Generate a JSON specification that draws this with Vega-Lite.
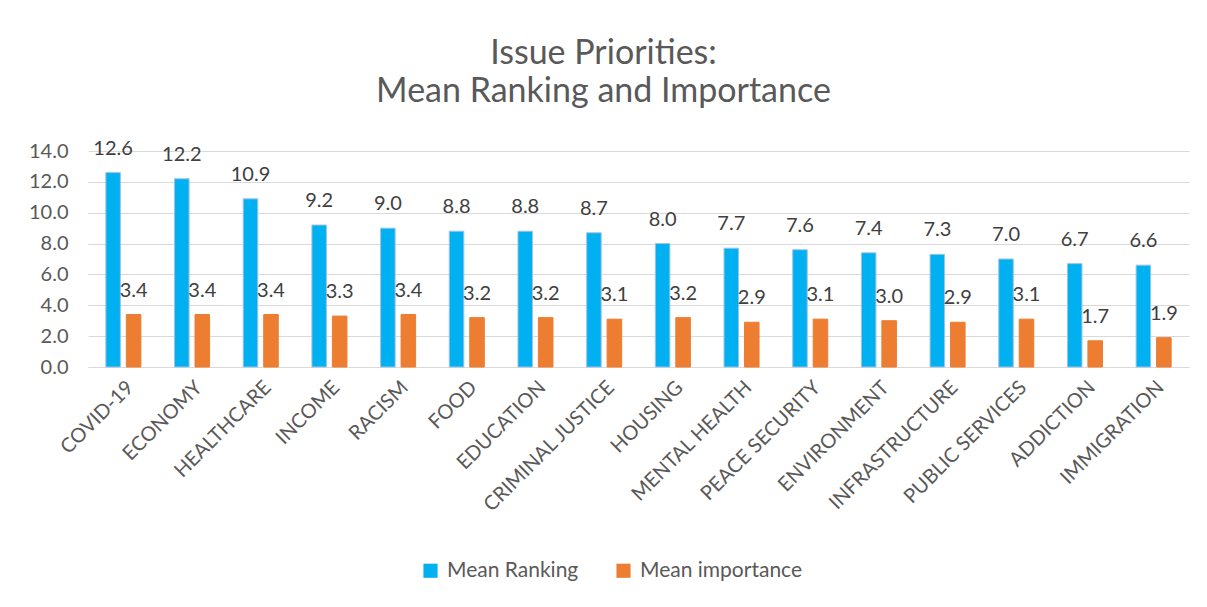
{
  "$schema": "https://vega.github.io/schema/vega-lite/v6.json",
  "width": 1101,
  "height": 216,
  "padding": {"left": 28, "top": 36, "right": 15, "bottom": 10},
  "background": "white",
  "title": {
    "text": ["Issue Priorities:", "Mean Ranking and Importance"],
    "fontSize": 34,
    "fontWeight": "normal",
    "font": "Lato",
    "color": "#595959",
    "lineHeight": 38,
    "offset": 30,
    "dx": -35
  },
  "data": {
    "values": [
      {"issue": "COVID-19", "series": "Mean Ranking", "value": 12.6},
      {"issue": "COVID-19", "series": "Mean importance", "value": 3.4},
      {"issue": "ECONOMY", "series": "Mean Ranking", "value": 12.2},
      {"issue": "ECONOMY", "series": "Mean importance", "value": 3.4},
      {"issue": "HEALTHCARE", "series": "Mean Ranking", "value": 10.9},
      {"issue": "HEALTHCARE", "series": "Mean importance", "value": 3.4},
      {"issue": "INCOME", "series": "Mean Ranking", "value": 9.2},
      {"issue": "INCOME", "series": "Mean importance", "value": 3.3},
      {"issue": "RACISM", "series": "Mean Ranking", "value": 9.0},
      {"issue": "RACISM", "series": "Mean importance", "value": 3.4},
      {"issue": "FOOD", "series": "Mean Ranking", "value": 8.8},
      {"issue": "FOOD", "series": "Mean importance", "value": 3.2},
      {"issue": "EDUCATION", "series": "Mean Ranking", "value": 8.8},
      {"issue": "EDUCATION", "series": "Mean importance", "value": 3.2},
      {"issue": "CRIMINAL JUSTICE", "series": "Mean Ranking", "value": 8.7},
      {"issue": "CRIMINAL JUSTICE", "series": "Mean importance", "value": 3.1},
      {"issue": "HOUSING", "series": "Mean Ranking", "value": 8.0},
      {"issue": "HOUSING", "series": "Mean importance", "value": 3.2},
      {"issue": "MENTAL HEALTH", "series": "Mean Ranking", "value": 7.7},
      {"issue": "MENTAL HEALTH", "series": "Mean importance", "value": 2.9},
      {"issue": "PEACE SECURITY", "series": "Mean Ranking", "value": 7.6},
      {"issue": "PEACE SECURITY", "series": "Mean importance", "value": 3.1},
      {"issue": "ENVIRONMENT", "series": "Mean Ranking", "value": 7.4},
      {"issue": "ENVIRONMENT", "series": "Mean importance", "value": 3.0},
      {"issue": "INFRASTRUCTURE", "series": "Mean Ranking", "value": 7.3},
      {"issue": "INFRASTRUCTURE", "series": "Mean importance", "value": 2.9},
      {"issue": "PUBLIC SERVICES", "series": "Mean Ranking", "value": 7.0},
      {"issue": "PUBLIC SERVICES", "series": "Mean importance", "value": 3.1},
      {"issue": "ADDICTION", "series": "Mean Ranking", "value": 6.7},
      {"issue": "ADDICTION", "series": "Mean importance", "value": 1.7},
      {"issue": "IMMIGRATION", "series": "Mean Ranking", "value": 6.6},
      {"issue": "IMMIGRATION", "series": "Mean importance", "value": 1.9}
    ]
  },
  "encoding": {
    "x": {
      "field": "issue",
      "type": "nominal",
      "sort": null,
      "title": null,
      "scale": {"paddingInner": 0.49, "paddingOuter": 0.26},
      "axis": {
        "labelAngle": -45,
        "labelFontSize": 20,
        "labelFont": "Lato",
        "labelColor": "#595959",
        "ticks": false,
        "domainColor": "#d9d9d9",
        "labelPadding": 10
      }
    },
    "xOffset": {
      "field": "series",
      "type": "nominal",
      "sort": ["Mean Ranking", "Mean importance"],
      "scale": {"paddingInner": 0.29}
    },
    "y": {
      "field": "value",
      "type": "quantitative",
      "title": null,
      "scale": {"domain": [0, 14]},
      "axis": {
        "values": [0, 2, 4, 6, 8, 10, 12, 14],
        "format": ".1f",
        "labelFontSize": 20,
        "labelFont": "Lato",
        "labelColor": "#595959",
        "ticks": false,
        "domain": false,
        "gridColor": "#d9d9d9",
        "labelPadding": 20
      }
    }
  },
  "layer": [
    {
      "mark": {"type": "bar", "strokeWidth": 1},
      "encoding": {
        "color": {
          "field": "series",
          "type": "nominal",
          "scale": {"domain": ["Mean Ranking", "Mean importance"], "range": ["#00b0f0", "#ed7d31"]},
          "legend": {
            "title": null,
            "orient": "none",
            "legendX": 332,
            "legendY": 409,
            "direction": "horizontal",
            "symbolType": "square",
            "symbolSize": 200,
            "symbolStrokeWidth": 0,
            "labelFontSize": 21,
            "labelFont": "Lato",
            "labelColor": "#595959",
            "labelOffset": 6,
            "labelLimit": 400,
            "columnPadding": 34
          }
        },
        "stroke": {
          "field": "series",
          "type": "nominal",
          "scale": {"domain": ["Mean Ranking", "Mean importance"], "range": ["#9dc3e6", "#ed7d31"]},
          "legend": null
        }
      }
    },
    {
      "mark": {"type": "text", "baseline": "alphabetic", "dy": -18, "fontSize": 20, "font": "Lato", "color": "#404040"},
      "encoding": {
        "text": {"field": "value", "type": "quantitative", "format": ".1f"}
      }
    }
  ],
  "config": {"view": {"stroke": null}}
}
